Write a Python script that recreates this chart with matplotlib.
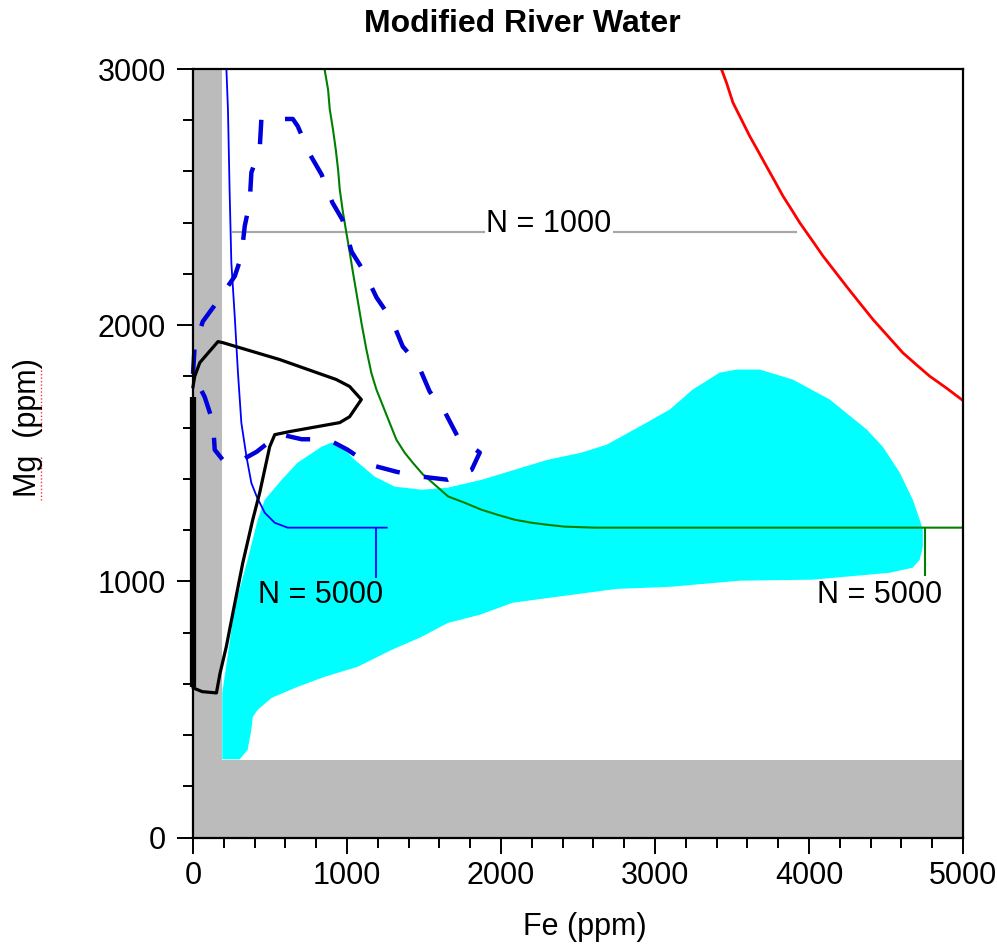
import matplotlib
matplotlib.use('Agg')
import matplotlib.pyplot as plt
from matplotlib.lines import Line2D

plt.rcParams['font.family'] = ['Liberation Sans', 'DejaVu Sans']

# excluded strips (gray)
gray_fe_max = 188
gray_mg_max = 305

# cyan region outline, Fe (ppm) / Mg (ppm)
cyan_fe = [190, 190, 271, 355, 420, 466, 576, 680, 836, 901, 966, 1050, 1180, 1310,
           1485, 1654, 1875, 2089, 2304, 2524, 2687, 2946, 3096, 3245, 3420, 3531,
           3681, 3895, 4135, 4375, 4479, 4589, 4674, 4719, 4739, 4739, 4719, 4674,
           4524, 4024, 3550, 3096, 2751, 2362, 2076, 1862, 1654, 1485, 1290, 1069,
           855, 680, 511, 420, 388, 379, 355, 303]
cyan_mg = [306, 565, 901, 1085, 1241, 1319, 1397, 1464, 1526, 1542, 1526, 1475, 1409, 1370,
           1358, 1366, 1397, 1436, 1475, 1503, 1534, 1620, 1671, 1749, 1815, 1827,
           1827, 1788, 1710, 1593, 1526, 1425, 1319, 1241, 1202, 1136, 1085, 1054,
           1034, 1007, 1003, 979, 971, 940, 917, 870, 838, 784, 733, 667,
           628, 589, 546, 499, 471, 421, 343, 306]

# blue solid curve
blue_fe = [217, 227, 238, 249, 260, 271, 292, 314, 347, 379, 414, 466, 531, 615, 1258]
blue_mg = [3000, 2842, 2517, 2244, 2139, 2035, 1814, 1619, 1488, 1384, 1331, 1268, 1229,
           1210, 1210]
blue_tick_fe = 1186

# green curve
green_fe = [854, 877, 888, 909, 927, 942, 953, 974, 996, 1018, 1039, 1065, 1094, 1126,
            1158, 1191, 1234, 1277, 1321, 1375, 1429, 1494, 1558, 1656, 1765, 1873,
            1979, 2089, 2200, 2305, 2414, 2609, 5000]
green_mg = [3000, 2920, 2843, 2764, 2686, 2608, 2530, 2439, 2361, 2283, 2205, 2113, 2009,
            1905, 1814, 1749, 1684, 1619, 1553, 1502, 1462, 1417, 1384, 1332, 1307, 1280,
            1260, 1241, 1229, 1221, 1214, 1210, 1210]
green_tick_fe = 4756

# red curve
red_fe = [3431, 3464, 3506, 3561, 3615, 3669, 3723, 3777, 3831, 3886, 3940, 4016, 4091,
          4167, 4243, 4329, 4416, 4513, 4610, 4697, 4784, 4892, 5000]
red_mg = [3000, 2947, 2869, 2803, 2738, 2680, 2621, 2563, 2504, 2452, 2400, 2335, 2270,
          2211, 2152, 2087, 2022, 1957, 1892, 1846, 1801, 1755, 1706]

# N = 1000 gray line
n1000_fe = [260, 3914]
n1000_mg = 2365

# blue dashed loop
dash_fe = [0, 10, 63, 152, 271, 314, 336, 368, 379, 433, 444, 648, 680, 760, 835, 905,
           970, 1030, 1115, 1192, 1290, 1362, 1459, 1537, 1634, 1719, 1862, 1810, 1654,
           1472, 1322, 1147, 1004, 875, 706, 560, 413, 284, 194, 141, 130, 76, 0]
dash_mg = [1810, 1910, 2014, 2087, 2191, 2269, 2387, 2479, 2596, 2686, 2805, 2805, 2777,
           2666, 2588, 2479, 2412, 2287, 2205, 2108, 2022, 1917, 1850, 1741, 1663, 1565,
           1503, 1436, 1397, 1410, 1428, 1456, 1514, 1555, 1555, 1575, 1506, 1463, 1474,
           1514, 1621, 1720, 1810]

# black outline
black_fe = [0, 0, 60, 152, 175, 216, 259, 323, 388, 433, 498, 531, 628, 953, 1017, 1093,
            1017, 931, 563, 194, 162, 44, 11, 0]
black_mg = [588, 585, 570, 565, 640, 745, 877, 1072, 1241, 1346, 1526, 1573, 1585, 1620,
            1643, 1710, 1761, 1788, 1866, 1932, 1936, 1854, 1800, 1760]
black_thick_mg = [590, 1720]

fig = plt.figure(figsize=(9.97, 9.52), dpi=100)
ax = fig.add_axes([193 / 997, 1 - 837.7 / 952, 770 / 997, 768.7 / 952])
ax.set_xlim(0, 5000)
ax.set_ylim(0, 3000)

ax.axvspan(0, gray_fe_max, color='#bbbbbb', lw=0, zorder=1)
ax.axhspan(0, gray_mg_max, color='#bbbbbb', lw=0, zorder=1)
ax.fill(cyan_fe, cyan_mg, color='#00ffff', lw=0, zorder=2)

ax.plot(n1000_fe, [n1000_mg, n1000_mg], color='#a8a8a8', lw=1.6, zorder=3)
ax.text(2310, 2395, 'N = 1000', fontsize=22, ha='center', va='center', zorder=3.5,
        bbox=dict(facecolor='white', edgecolor='none', pad=1))

ax.plot(green_fe, green_mg, color='#008000', lw=1.5, zorder=4)
ax.plot([green_tick_fe, green_tick_fe], [1210, 1026], color='#008000', lw=1.5, zorder=4)
ax.text(4459, 948, 'N = 5000', fontsize=22, ha='center', va='center', zorder=4)

ax.plot(blue_fe, blue_mg, color='#0000ff', lw=1.3, zorder=4)
ax.plot([blue_tick_fe, blue_tick_fe], [1210, 1018], color='#0000ff', lw=1.3, zorder=4)
ax.text(829, 948, 'N = 5000', fontsize=22, ha='center', va='center', zorder=4)

ax.plot(red_fe, red_mg, color='#ff0000', lw=2, zorder=4)

ax.plot(dash_fe, dash_mg, color='#0000dd', lw=3.2, dashes=(5.5, 5.5), zorder=5,
        clip_on=False)

ax.plot(black_fe, black_mg, color='black', lw=2.3, zorder=6, clip_on=False)
ax.plot([0, 0], black_thick_mg, color='black', lw=4.5, zorder=6, clip_on=False,
        solid_capstyle='butt')

for s in ax.spines.values():
    s.set_linewidth(1.6)
    s.set_zorder(7)

ax.set_xticks(range(0, 5001, 1000))
ax.set_yticks(range(0, 3001, 1000))
ax.set_xticks(range(0, 5001, 200), minor=True)
ax.set_yticks(range(0, 3001, 200), minor=True)
ax.tick_params(which='major', direction='out', length=11.5, width=1.4, labelsize=22)
ax.tick_params(which='minor', direction='out', length=7.2, width=1.4)
ax.tick_params(axis='x', which='major', pad=5)
ax.tick_params(axis='y', which='major', pad=8)

fig.text(522 / 997, 1 - 24 / 952, 'Modified River Water', fontsize=23, fontweight='bold',
         ha='center', va='center')
fig.text(585 / 997, 1 - 927 / 952, 'Fe (ppm)', fontsize=22, ha='center', va='center')
fig.text(28 / 997, 1 - 428 / 952, 'Mg  (ppm)', fontsize=22, ha='center', va='center',
         rotation=90)

# spell-check squiggles under the y label
for y0, y1 in [(457, 500), (370, 432)]:
    fig.add_artist(Line2D([41 / 997, 41 / 997], [1 - y0 / 952, 1 - y1 / 952],
                          color='#ff3030', lw=1, ls=(0, (1, 1.5))))

fig.savefig('out.png', dpi=100)
